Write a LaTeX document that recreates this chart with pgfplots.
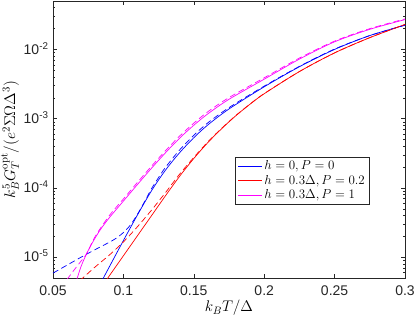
\RequirePackage{fix-cm}
\documentclass[border=0pt]{standalone}
\usepackage{fontspec}
\usepackage{pgfplots}
\pgfplotsset{compat=1.18}
\newfontfamily\helv{Liberation Sans}
\definecolor{axgray}{rgb}{0.15,0.15,0.15}
\definecolor{mag}{rgb}{1,0,1}
\begin{document}
\begin{tikzpicture}
\useasboundingbox (-53pt,-38pt) rectangle (362pt,278pt);
\begin{axis}[
  scale only axis,
  width=352pt, height=277pt,
  ymode=log,
  xmin=0.05, xmax=0.3,
  ymin=5e-6, ymax=5e-2,
  axis line style={axgray, line width=0.5pt},
  every tick/.style={axgray, line width=0.5pt},
  major tick length=4pt,
  minor tick length=2pt,
  xtick={0.05,0.1,0.15,0.2,0.25,0.3},
  xticklabels={0.05,0.1,0.15,0.2,0.25,0.3},
  ytick={1e-5,1e-4,1e-3,1e-2},
  yticklabels={10\smash{\textsuperscript{-5}},10\smash{\textsuperscript{-4}},10\smash{\textsuperscript{-3}},10\smash{\textsuperscript{-2}}},
  minor ytick={6e-6,7e-6,8e-6,9e-6,2e-5,3e-5,4e-5,5e-5,6e-5,7e-5,8e-5,9e-5,2e-4,3e-4,4e-4,5e-4,6e-4,7e-4,8e-4,9e-4,2e-3,3e-3,4e-3,5e-3,6e-3,7e-3,8e-3,9e-3,2e-2,3e-2,4e-2},
  tick label style={font=\helv\fontsize{14}{16}\selectfont, text=axgray},
  xticklabel style={yshift=-4pt},
  yticklabel style={xshift=-1pt},
  label style={font=\fontsize{15.4}{18}\selectfont},
  xlabel={$k_BT/\Delta$},
  ylabel={$k_B^5G_T^{\mathrm{opt}}/(e^2\Sigma\Omega\Delta^3)$},
  xlabel style={at={(axis description cs:0.5,-0.108)}, anchor=center},
  ylabel style={at={(axis description cs:-0.122,0.5)}, anchor=center},
  legend style={at={(axis description cs:0.517,0.437)}, anchor=north west,
    font=\fontsize{13}{15}\selectfont, draw=axgray, line width=0.5pt,
    inner xsep=2.5pt, inner ysep=1.5pt, row sep=0pt},
  legend cell align=left,
  legend image code/.code={\draw[#1] (0pt,0pt) -- (24pt,0pt);},
  every axis plot/.append style={line width=0.7pt, smooth, tension=0.5},
]
\addplot[blue] coordinates {
(0.0845,4.467e-6) (0.09,7.244e-6) (0.10,1.738e-5) (0.11,4.074e-5) (0.12,9.120e-5)
(0.13,1.820e-4) (0.14,3.236e-4) (0.15,5.309e-4) (0.16,8.128e-4) (0.175,1.380e-3)
(0.20,2.884e-3) (0.225,5.623e-3) (0.25,1.000e-2) (0.275,1.585e-2) (0.30,2.239e-2)};
\addlegendentry{$h=0, P=0$}
\addplot[red] coordinates {
(0.0870,4.365e-6) (0.09,5.370e-6) (0.10,1.047e-5) (0.11,2.042e-5) (0.12,3.981e-5)
(0.13,7.762e-5) (0.14,1.479e-4) (0.15,2.661e-4) (0.16,4.519e-4) (0.17,7.244e-4)
(0.18,1.109e-3) (0.19,1.622e-3) (0.20,2.291e-3) (0.225,4.786e-3) (0.25,8.913e-3)
(0.275,1.479e-2) (0.30,2.291e-2)};
\addlegendentry{$h=0.3\Delta, P=0.2$}
\addplot[mag] coordinates {
(0.0665,4.467e-6) (0.0700,7.413e-6) (0.0739,1.122e-5) (0.0780,1.622e-5) (0.0834,2.455e-5)
(0.090,3.715e-5) (0.100,6.457e-5) (0.110,1.122e-4) (0.120,1.928e-4) (0.130,3.236e-4)
(0.140,5.248e-4) (0.150,8.035e-4) (0.160,1.175e-3) (0.175,1.905e-3) (0.200,3.715e-3)
(0.225,7.244e-3) (0.250,1.288e-2) (0.275,1.950e-2) (0.300,2.692e-2)};
\addlegendentry{$h=0.3\Delta, P=1$}
\addplot[blue, dash pattern=on 6pt off 3.5pt, forget plot] coordinates {
(0.05,5.888e-6) (0.06,7.674e-6) (0.07,1.000e-5) (0.08,1.288e-5) (0.09,1.641e-5)
(0.095,1.884e-5) (0.10,2.265e-5) (0.105,2.917e-5) (0.11,4.169e-5) (0.115,6.310e-5)
(0.12,9.772e-5) (0.125,1.413e-4) (0.13,1.995e-4) (0.14,3.548e-4) (0.15,5.754e-4)
(0.16,8.710e-4) (0.175,1.445e-3) (0.20,2.951e-3) (0.225,5.689e-3) (0.25,1.012e-2)
(0.275,1.585e-2) (0.30,2.239e-2)};
\addplot[red, dash pattern=on 6pt off 3.5pt, forget plot] coordinates {
(0.069,4.571e-6) (0.08,7.244e-6) (0.09,1.072e-5) (0.10,1.660e-5) (0.11,2.754e-5)
(0.12,4.786e-5) (0.13,8.610e-5) (0.14,1.585e-4) (0.15,2.754e-4) (0.16,4.624e-4)
(0.17,7.328e-4) (0.18,1.117e-3) (0.19,1.629e-3) (0.20,2.301e-3) (0.225,4.786e-3)
(0.25,8.913e-3) (0.275,1.479e-2) (0.30,2.291e-2)};
\addplot[mag, dash pattern=on 6pt off 3.5pt, forget plot] coordinates {
(0.060,4.786e-6) (0.065,6.531e-6) (0.070,8.810e-6) (0.0739,1.122e-5) (0.080,1.995e-5)
(0.090,3.981e-5) (0.100,6.918e-5) (0.110,1.202e-4) (0.120,2.065e-4) (0.130,3.467e-4)
(0.140,5.623e-4) (0.150,8.610e-4) (0.160,1.259e-3) (0.175,2.018e-3) (0.200,3.890e-3)
(0.225,7.499e-3) (0.250,1.318e-2) (0.275,1.995e-2) (0.300,2.754e-2)};
\end{axis}
\end{tikzpicture}
\end{document}
